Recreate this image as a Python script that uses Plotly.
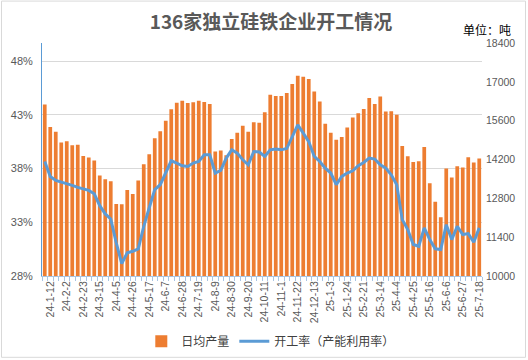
import plotly.graph_objects as go

dates = [
    "24-1-5", "24-1-12", "24-1-19", "24-1-26", "24-2-2", "24-2-9", "24-2-16", "24-2-23",
    "24-3-1", "24-3-8", "24-3-15", "24-3-22", "24-3-29", "24-4-5", "24-4-12", "24-4-19",
    "24-4-26", "24-5-3", "24-5-10", "24-5-17", "24-5-24", "24-5-31", "24-6-7", "24-6-14",
    "24-6-21", "24-6-28", "24-7-5", "24-7-12", "24-7-19", "24-7-26", "24-8-2", "24-8-9",
    "24-8-16", "24-8-23", "24-8-30", "24-9-6", "24-9-13", "24-9-20", "24-9-27", "24-10-4",
    "24-10-11", "24-10-18", "24-10-25", "24-11-1", "24-11-8", "24-11-15", "24-11-22", "24-11-29",
    "24-12-6", "24-12-13", "24-12-20", "24-12-27", "25-1-3", "25-1-10", "25-1-17", "25-1-24",
    "25-2-7", "25-2-14", "25-2-21", "25-2-28", "25-3-7", "25-3-14", "25-3-21", "25-3-28",
    "25-4-4", "25-4-11", "25-4-18", "25-4-25", "25-5-2", "25-5-9", "25-5-16", "25-5-23",
    "25-5-30", "25-6-6", "25-6-13", "25-6-20", "25-6-27", "25-7-4", "25-7-11", "25-7-18",
]

daily_output = [
    16180, 15370, 15200, 14810, 14860, 14710, 14735, 14330, 14270, 14160,
    13625, 13490, 13420, 12600, 12585, 13100, 12955, 13445, 14030, 14390,
    14970, 15220, 15595, 16010, 16250, 16320, 16240, 16265, 16320, 16275,
    16205, 14485, 14520, 14350, 14935, 15165, 15415, 15200, 15545, 15525,
    15905, 16535, 16490, 16490, 16600, 16920, 17220, 17180, 17100, 16655,
    16295, 15490, 15165, 14915, 15010, 15355, 15715, 15865, 16025, 16420,
    16205, 16475, 15930, 15940, 15810, 14685, 14315, 14110, 14135, 14650,
    13340, 12680, 12120, 13875, 13555, 13960, 13910, 14280, 14090, 14235,
]

utilization = [
    38.67, 37.27, 36.90, 36.75, 36.66, 36.44, 36.25, 36.13, 35.97, 35.66,
    34.55, 33.78, 33.31, 31.08, 29.16, 30.16, 30.30, 30.53, 32.63, 34.36,
    36.04, 36.50, 37.59, 38.73, 38.52, 38.27, 38.20, 38.52, 38.67, 39.29,
    39.29, 37.59, 37.83, 38.98, 39.75, 39.44, 38.82, 38.36, 39.59, 39.55,
    39.13, 39.75, 39.82, 39.75, 39.87, 40.99, 42.07, 41.30, 40.52, 39.13,
    38.67, 38.05, 37.59, 36.50, 37.27, 37.59, 37.80, 38.27, 38.57, 38.98,
    38.89, 38.36, 38.05, 37.43, 36.50, 33.25, 32.32, 30.93, 30.77, 32.48,
    31.39, 30.53, 30.46, 32.78, 31.39, 32.63, 31.86, 31.95, 31.14, 32.48,
]

title_text = "136家独立硅铁企业开工情况"
unit_text = "单位：吨"
bar_name = "日均产量"
line_name = "开工率（产能利用率）"
pct_ticks = [0.28, 0.33, 0.38, 0.43, 0.48]
ton_ticks = [10000, 11400, 12800, 14200, 15600, 17000, 18400]

idx = list(range(len(dates)))
label_idx = idx[1::3]
label_txt = [dates[i] for i in label_idx]

FONT = "Liberation Sans, Noto Sans CJK SC, sans-serif"
CJK = "Noto Sans CJK SC, sans-serif"

fig = go.Figure()
fig.add_bar(
    x=idx, y=daily_output, yaxis="y", name=bar_name,
    marker=dict(color="#ED7D31", line=dict(width=0)),
)
fig.add_scatter(
    x=idx, y=[v / 100 for v in utilization], yaxis="y2", name=line_name,
    mode="lines", line=dict(color="#5B9BD5", width=3),
)

L, R, T, B = 42, 46, 43, 83.5
fig.update_layout(
    width=528, height=360,
    margin=dict(l=L, r=R, t=T, b=B, pad=0, autoexpand=False),
    paper_bgcolor="white", plot_bgcolor="white",
    bargap=0.32,
    showlegend=True,
    legend=dict(
        orientation="h", x=0.52, xanchor="center", y=-0.28, yanchor="middle",
        font=dict(family=CJK, size=12, color="#404040"),
        itemwidth=30, tracegroupgap=0, traceorder="normal",
    ),
    title=dict(
        text="<b>" + title_text + "</b>",
        x=271 / 528, xanchor="center", y=1 - 22 / 360, yanchor="middle",
        yref="container", xref="container",
        font=dict(family=CJK, size=19, color="#595959"),
    ),
    xaxis=dict(
        type="linear", range=[-0.5, len(dates) - 0.5], automargin=False,
        tickmode="array", tickvals=label_idx, ticktext=label_txt,
        tickangle=-90, ticks="", showgrid=False, zeroline=False,
        showline=True, linecolor="#A9C5E3", linewidth=1,
        tickfont=dict(family=FONT, size=10.5, color="#595959"),
        minor=dict(ticks="outside", tickmode="linear", tick0=-0.5, dtick=1,
                   ticklen=4, tickcolor="#A9C5E3", tickwidth=1, showgrid=False),
    ),
    yaxis=dict(
        side="right", range=[10000, 18400], tickmode="array", tickvals=ton_ticks,
        tickformat="d", automargin=False,
        showgrid=False, zeroline=False, showline=False, ticks="",
        tickfont=dict(family=FONT, size=10.5, color="#595959"),
        ticklabelstandoff=3,
    ),
    yaxis2=dict(
        overlaying="y", side="left", range=[0.28, 0.497], automargin=False,
        tickmode="array", tickvals=pct_ticks, tickformat=".0%",
        showgrid=True, gridcolor="#D9D9D9", gridwidth=1, zeroline=False,
        showline=True, linecolor="#5B9BD5", linewidth=1, ticks="",
        tickfont=dict(family=FONT, size=11, color="#595959"),
        ticklabelstandoff=6,
    ),
)

pw = 528 - L - R
ph = 360 - T - B
def px_x(x):
    return (x - L) / pw
def px_y(y):
    return (360 - B - y) / ph

fig.add_annotation(
    text=unit_text, xref="paper", yref="paper", x=px_x(513), y=px_y(29),
    xanchor="right", yanchor="middle", showarrow=False,
    font=dict(family=CJK, size=12, color="#000000"),
)
fig.add_shape(
    type="rect", xref="paper", yref="paper",
    x0=px_x(1.5), x1=px_x(525.5), y0=px_y(358), y1=px_y(1),
    line=dict(color="#D9D9D9", width=1), fillcolor="rgba(0,0,0,0)", layer="below",
)

fig.write_html(
    "out.html",
    config={"displayModeBar": False},
    post_script="document.body.style.margin='0';document.body.style.padding='0';document.body.style.overflow='hidden';",
)
